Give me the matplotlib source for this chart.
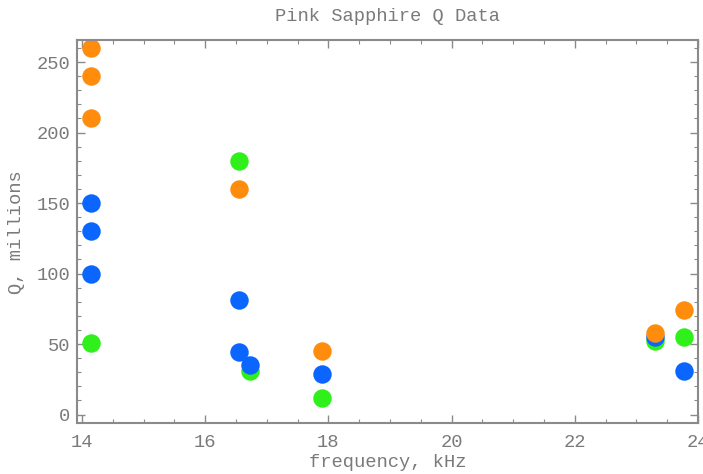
import matplotlib
matplotlib.use('Agg')
import matplotlib.pyplot as plt
from matplotlib.ticker import MultipleLocator

# -----------------------
# DATA
# -----------------------
green_freq = [14.15, 16.55, 16.73, 17.9, 23.3, 23.77]
green_q = [51, 180, 31, 12, 52, 55]

blue_freq = [14.15, 14.15, 14.15, 16.55, 16.55, 16.73, 17.9, 23.3, 23.77]
blue_q = [150, 130, 100, 81, 44, 35, 29, 55, 31]

orange_freq = [14.15, 14.15, 14.15, 16.55, 17.9, 23.3, 23.77]
orange_q = [260, 240, 210, 160, 45, 58, 74]

x_ticks = [14, 16, 18, 20, 22, 24]
y_ticks = [0, 50, 100, 150, 200, 250]

# -----------------------
# STYLE
# -----------------------
plt.rcParams['font.family'] = ['Liberation Mono', 'DejaVu Sans Mono']
text_col = '#7a7a7a'
frame_col = '#8a8a8a'

fig = plt.figure(figsize=(7.03, 4.74), dpi=100)
ax = fig.add_axes([0.1095, 0.107, 0.8835, 0.8086])

ms = 13.3
ax.plot(green_freq, green_q, 'o', color='#30f01c', ms=ms, mec='none')
ax.plot(blue_freq, blue_q, 'o', color='#0a66ff', ms=ms, mec='none')
ax.plot(orange_freq, orange_q, 'o', color='#ff8c0c', ms=ms, mec='none')

ax.set_xlim(13.92, 24.0)
ax.set_ylim(-6.2, 265.6)
ax.set_xticks(x_ticks)
ax.set_yticks(y_ticks)
ax.xaxis.set_minor_locator(MultipleLocator(0.5))
ax.yaxis.set_minor_locator(MultipleLocator(10))

for side in ax.spines.values():
    side.set_color(frame_col)
    side.set_linewidth(1.5)

ax.tick_params(which='both', direction='in', top=True, right=True,
               colors=frame_col, labelcolor=text_col, labelsize=13.5)
ax.tick_params(which='major', length=6, width=1)
ax.tick_params(which='minor', length=3, width=0.8)
ax.tick_params(axis='x', pad=8)
ax.tick_params(axis='y', pad=5)

ax.set_title('Pink Sapphire Q Data', color=text_col, fontsize=13.5, pad=13.5)
ax.set_xlabel('frequency, kHz', color=text_col, fontsize=13.5, labelpad=2)
ax.set_ylabel('Q, millions', color=text_col, fontsize=13.5, labelpad=8)

fig.savefig('out.png', dpi=100)
